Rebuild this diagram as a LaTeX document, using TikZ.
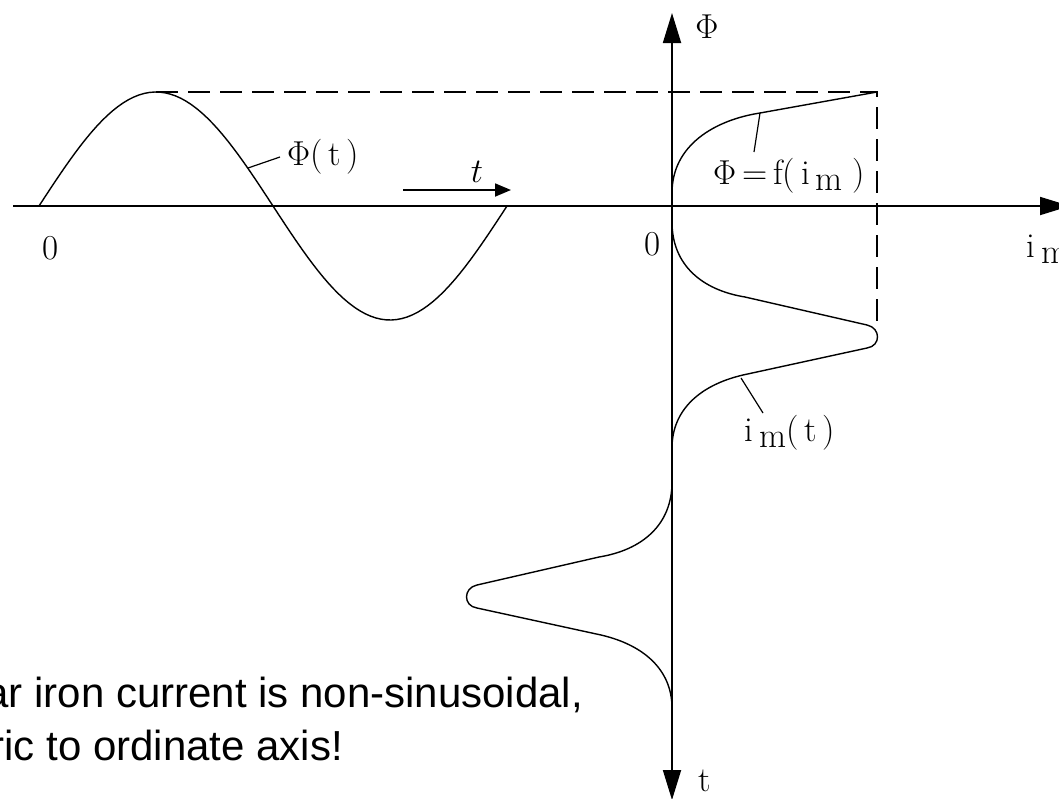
\documentclass[tikz,border=0pt]{standalone}
\usepackage{fontspec}
\newfontfamily\notefont{Liberation Sans}
\usetikzlibrary{arrows.meta,positioning}
\newcommand{\isub}{i\,\raisebox{-.4ex}{m}}
\begin{document}
\begin{tikzpicture}[x=.5pt,y=-.5pt,font=\fontsize{17.5}{20}\selectfont,
  >={Triangle[length=15pt,width=9pt]},
  axis/.style={line width=.9pt},
  curve/.style={line width=.7pt},
  guide/.style={line width=.7pt,dash pattern=on 11pt off 5pt},
  leader/.style={line width=.6pt},
  note/.style={font=\notefont\fontsize{21}{25}\selectfont,anchor=base west,inner sep=0}]
\useasboundingbox (0,0) rectangle (1059,798);
\coordinate (west) at (13,206); \coordinate (east) at (1070,206);
\coordinate (up) at (672,13); \coordinate (down) at (672,800);
\coordinate (peak) at (156,92); \coordinate (sat) at (877,92); \coordinate (tip) at (877,330);
\coordinate (knee) at (760,113); \coordinate (tstart) at (403,190); \coordinate (tend) at (511,190);
\draw[axis,->] (west) -- (east);
\draw[axis,<->] (up) -- (down);
\draw[guide] (peak) -- (sat) -- (tip);
\draw[curve] plot[domain=0:360,samples=90] ({39+1.3*\x},{206-114*sin(\x)});
\draw[curve] (672,193) .. controls (672,145) and (715,120) .. (knee) -- (sat);
\foreach \yc/\s in {335/1,595/-1} {
  \begin{scope}[shift={(672,\yc)},xscale=\s]
  \draw[curve] (0,-113) .. controls (0,-70) and (30,-45) .. (73,-38) -- (195,-10) .. controls (209,-7) and (209,11) .. (195,13) -- (71,40) .. controls (28,50) and (0,75) .. (0,113);
  \end{scope}}
\draw[axis,-{Triangle[length=8pt,width=6.5pt]}] (tstart) -- (tend);
\node (tarrow) at (477,172) {$t$};
\node[anchor=west] (phit) at (280,157) {$\Phi$(\,t\,)};
\draw[leader] (248,168) -- (phit.west);
\node (phif) at (789,176) {$\Phi$\,=\,f(\,\isub\;)};
\draw[leader] (knee) -- ++(-6,39);
\node (imt) at (790,433) {\isub(\,t\,)};
\draw[leader] (741,378) -- ++(22,35);
\node (phiax) at (707,27) {$\Phi$};
\node[anchor=base west,inner sep=0] (imax) at (1026,257) {\isub};
\node (zeroleft) at (51,248) {0};
\node (zeroright) at (653,244) {0};
\node[anchor=base,inner sep=0] (tax) at (705,791) {t};
\node[note] (note1) at (-15,707) {ar iron current is non-sinusoidal,};
\node[note] (note2) at (-10,760) {ric to ordinate axis!};
\end{tikzpicture}
\end{document}
